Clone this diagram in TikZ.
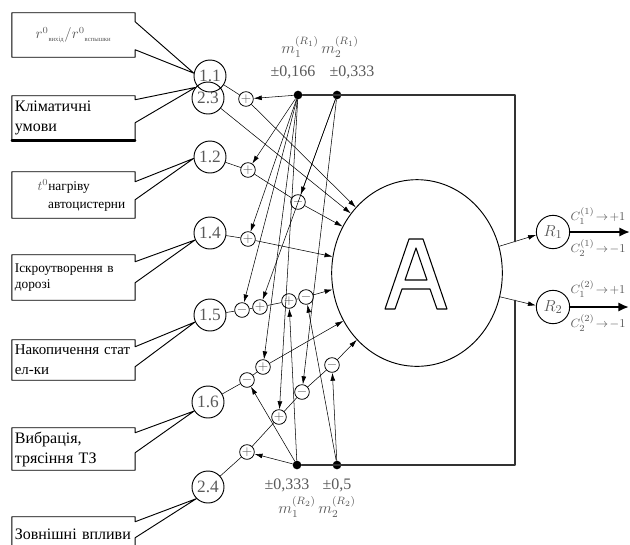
\documentclass[tikz,border=0pt]{standalone}
\usepackage{amsmath}
\usepackage{fontspec}
\setmainfont{Liberation Serif}
\usetikzlibrary{arrows.meta,shapes.geometric}
\definecolor{lblgray}{gray}{0.35}

\begin{document}
\begin{tikzpicture}[
		x=0.75pt, y=-0.75pt,
		line cap=round,
		line join=round,
		every node/.style={font=\fontsize{12}{15}\selectfont},
		inbox/.style={text width=88pt, inner sep=2pt, align=left, minimum height=#1},
		factor/.style={circle, draw, line width=0.7pt, minimum size=24pt, inner sep=0pt, text=lblgray, font=\fontsize{13}{13}\selectfont},
		sign/.style={circle, draw, line width=0.6pt, minimum size=11pt, inner sep=0pt, text=lblgray, font=\fontsize{10}{10}\selectfont},
		knot/.style={circle, fill, minimum size=6.5pt, inner sep=0pt},
		lbl/.style={text=lblgray, inner sep=1pt},
		arr/.style={-{Latex[length=6pt,width=3.6pt]}},
		frame/.style={line width=1.2pt, draw=black!80}
	]
	
	\useasboundingbox (0,0) rectangle (630,544);
	
	% factors
	\node[factor] (c23) at (208,98) {2.3};
	\node[factor] (c11) at (210,76) {1.1};
	\node[factor] (c12) at (210,157) {1.2};
	\node[factor] (c14) at (210,233) {1.4};
	\node[factor] (c15) at (210,315) {1.5};
	\node[factor] (c16) at (208,402) {1.6};
	\node[factor] (c24) at (208,487) {2.4};
	
	% input boxes
	\node[inbox=33pt, align=center, text=lblgray, font=\fontsize{10.5}{12}\selectfont] (b1) at (73.5,35)
	{$r^{0}{}_{\text{\tiny вихід}}/r^{0}{}_{\text{\tiny вспышки}}$};
	\node[inbox=33pt] (b2) at (73.5,118) {Кліматичні\\умови};
	\node[inbox=34.5pt, font=\fontsize{10}{13.5}\selectfont] (b3) at (73.5,195)
	{\hspace*{17pt}{\color{lblgray}$t^{0}$}нагріву\\\hspace*{25pt}автоцистерни};
	\node[inbox=33.75pt, font=\fontsize{10}{12}\selectfont] (b4) at (73.5,277.5) {Іскроутворення в\\дорозі};
	\node[inbox=30pt, font=\fontsize{11.2}{15}\selectfont] (b5) at (73.5,360) {Накопичення стат\\ел-ки};
	\node[inbox=31.5pt] (b6) at (73.5,449) {Вибрація,\\трясіння ТЗ};
	\node[inbox=26.25pt] (b7) at (73.5,534.5) {Зовнішні впливи};
	
	\foreach \b/\c/\a/\u/\l in {b1/c11/170/9/37, b2/c23/140/4/27, b3/c12/185/10/28,
		b4/c14/205/7/28, b5/c15/205/7/27, b6/c16/213/5/25, b7/c24/225/5/21}
	\draw[line width=0.7pt] (\b.north west) -- (\b.north east) -- ([shift={(0,\u)}]\b.north east)
	-- (\c.\a) -- ([shift={(0,\l)}]\b.north east) -- (\b.south east) -- (\b.south west) -- cycle;
	\draw[line width=2pt] (b2.south west) -- (b2.south east);
	
	% signs
	\node[sign] (p1) at (246,99) {$+$};
	\node[sign] (p2) at (248,170) {$+$};
	\node[sign] (n1) at (298,202) {$-$};
	\node[sign] (p3) at (248,239) {$+$};
	\node[sign] (n2) at (242,310) {$-$};
	\node[sign] (p4) at (260,307) {$+$};
	\node[sign] (p5) at (289,301) {$+$};
	\node[sign] (n3) at (306,297) {$-$};
	\node[sign] (n4) at (247,380) {$-$};
	\node[sign] (p6) at (263,367) {$+$};
	\node[sign] (p7) at (247,452) {$+$};
	\node[sign] (p8) at (279,417) {$+$};
	\node[sign] (n5) at (302,392) {$-$};
	\node[sign] (n6) at (332,365) {$-$};
	
	% weight points
	\node[knot] (mt1) at (298,95) {};
	\node[knot] (mt2) at (337,95) {};
	\node[knot] (mb1) at (297,465) {};
	\node[knot] (mb2) at (337,465) {};
	
	\node[lbl] (m1t) at (300,47) {$m_1^{(R_1)}$};
	\node[lbl] (m2t) at (340,47) {$m_2^{(R_1)}$};
	\node[lbl] (w1t) at (293,72) {±0,166};
	\node[lbl] (w2t) at (352,72) {±0,333};
	\node[lbl] (w1b) at (287,485) {±0,333};
	\node[lbl] (w2b) at (337,485) {±0,5};
	\node[lbl] (m1b) at (297,507) {$m_1^{(R_2)}$};
	\node[lbl] (m2b) at (337,507) {$m_2^{(R_2)}$};
	
	% analyser
	\node[ellipse, draw, line width=0.7pt, minimum width=128pt, minimum height=140pt, inner sep=0pt] (A) at (417,273) {};
	\begin{scope}[shift={(416,273)}, line width=0.8pt]
		\draw (-31,36) -- (-7,-34) -- (7,-34) -- (31,36) -- (21,36) -- (14,16)
		-- (-14,16) -- (-21,36) -- cycle;
		\draw (-11,7) -- (0,-25) -- (11,7) -- cycle;
	\end{scope}
	
	\node[factor, minimum size=25pt] (R1) at (553,232) {$R_1$};
	\node[factor, minimum size=25pt] (R2) at (553,307) {$R_2$};
	
	% chains
	\draw (c11) -- (p1);
	\draw[arr] (p1) -- (A.133);
	\draw[arr] (c23) -- (A.138);
	\draw (c12) -- (p2) -- (n1);
	\draw[arr] (n1) -- (A.148);
	\draw (c14) -- (p3);
	\draw[arr] (p3) -- (A.169);
	\draw (c15) -- (n2) -- (p4) -- (p5) -- (n3);
	\draw[arr] (n3) -- (A.191);
	\draw (c16) -- (n4) -- (p6);
	\draw[arr] (p6) -- (A.213);
	\draw (c24) -- (p7) -- (p8) -- (n5) -- (n6);
	\draw[arr] (n6) -- (A.228);
	
	% weights
	\foreach \s in {p1,p2,p3,n2,p6,p8} \draw[arr] (mt1) -- (\s);
	\foreach \s in {n1,p4,n5} \draw[arr] (mt2) -- (\s);
	\foreach \s in {p7,n4,p5} \draw[arr] (mb1) -- (\s);
	\foreach \s in {n6,n3} \draw[arr] (mb2) -- (\s);
	
	% outputs
	\draw[arr] (A.18) -- (R1.190) coordinate[pos=0.42] (j1);
	\draw[arr] (A.-16) -- (R2.175) coordinate[pos=0.42] (j2);
	\draw[frame] (mt1) -- (j1 |- mt1) -- (j1);
	\draw[frame] (mb1) -- (j2 |- mb1) -- (j2);
	
	\coordinate (o1) at (630,232);
	\coordinate (o2) at (629,307);
	\draw[line width=2.2pt, -{Latex[length=8pt,width=7pt]}] (R1) -- (o1);
	\draw[line width=2.2pt, -{Latex[length=8pt,width=7pt]}] (R2) -- (o2);
	
	\node[lbl, anchor=west, font=\fontsize{9.5}{10}\selectfont] (q11) at (569,216) {$C_1^{(1)}\!\rightarrow\!+1$};
	\node[lbl, anchor=west, font=\fontsize{9.5}{10}\selectfont] (q21) at (569,248) {$C_2^{(1)}\!\rightarrow\!-1$};
	\node[lbl, anchor=west, font=\fontsize{9.5}{10}\selectfont] (q12) at (569,289) {$C_1^{(2)}\!\rightarrow\!+1$};
	\node[lbl, anchor=west, font=\fontsize{9.5}{10}\selectfont] (q22) at (569,323) {$C_2^{(2)}\!\rightarrow\!-1$};
	
\end{tikzpicture}
\end{document}
